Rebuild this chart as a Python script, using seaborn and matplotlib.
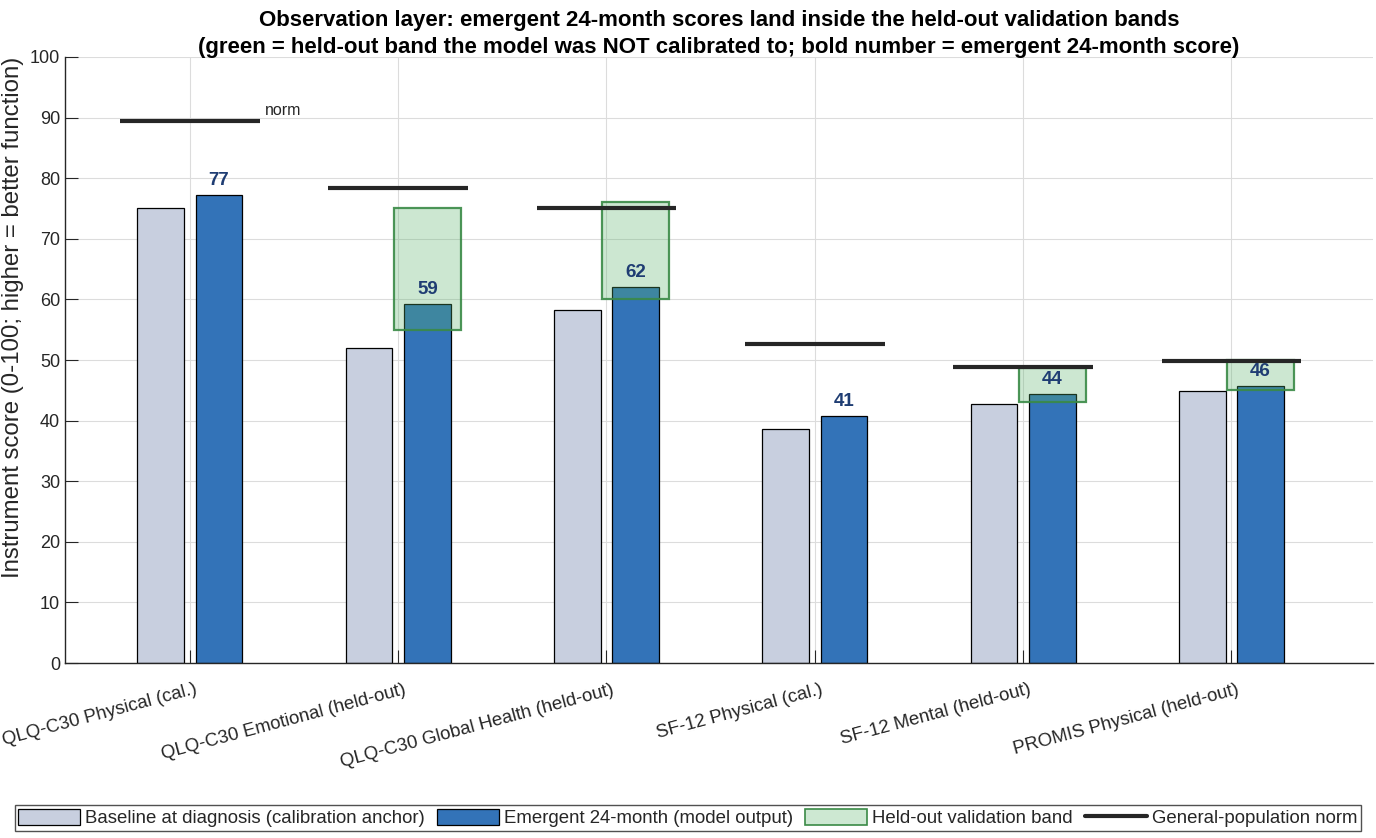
import numpy as np
import pandas as pd
import seaborn as sns
import matplotlib.pyplot as plt
import matplotlib.transforms as mtransforms
from matplotlib.patches import Rectangle, Patch
from matplotlib.lines import Line2D

# %% Data
instruments = ['QLQ-C30 Physical (cal.)', 'QLQ-C30 Emotional (held-out)',
               'QLQ-C30 Global Health (held-out)', 'SF-12 Physical (cal.)',
               'SF-12 Mental (held-out)', 'PROMIS Physical (held-out)']
baseline = [75.1, 52.0, 58.3, 38.6, 42.7, 44.9]
emergent = [77.2, 59.2, 62.0, 40.8, 44.4, 45.7]
band_lo = [np.nan, 55.0, 60.0, np.nan, 43.0, 45.0]
band_hi = [np.nan, 75.0, 76.0, np.nan, 48.7, 50.0]
norm = [89.4, 78.4, 75.1, 52.7, 48.8, 49.9]

series = ['Baseline at diagnosis (calibration anchor)', 'Emergent 24-month (model output)']
df = pd.DataFrame({
    'instrument': instruments * 2,
    'score': baseline + emergent,
    'series': [series[0]] * 6 + [series[1]] * 6,
})

c_base = '#c8cfdf'
c_emer = '#3373b8'
c_band = '#58b269'
c_band_edge = '#3a8a46'
c_norm = '#262626'
c_lab = '#1f3d73'

# %% Plot
sns.set_theme(style='whitegrid')
plt.rcParams['font.family'] = ['Liberation Sans', 'DejaVu Sans']

fig = plt.figure(figsize=(13.76, 8.38), dpi=100)
ax = fig.add_axes([0.0472, 0.2088, 0.9506, 0.7232])

sns.barplot(data=df, x='instrument', y='score', hue='series', hue_order=series,
            palette=[c_base, c_emer], saturation=1, width=0.56, gap=0.2,
            edgecolor='black', linewidth=0.9, errorbar=None, legend=False, ax=ax)

off = 0.14
for i in range(len(instruments)):
    if not np.isnan(band_lo[i]):
        ax.add_patch(Rectangle((i + off - 0.16, band_lo[i]), 0.32, band_hi[i] - band_lo[i],
                               facecolor=c_band, alpha=0.3, edgecolor='none', zorder=4))
        ax.add_patch(Rectangle((i + off - 0.16, band_lo[i]), 0.32, band_hi[i] - band_lo[i],
                               facecolor='none', edgecolor=c_band_edge, lw=1.6, alpha=0.9, zorder=4))
    ax.hlines(norm[i], i - 0.335, i + 0.335, color=c_norm, lw=3, zorder=5)
    ax.text(i + off, emergent[i] + 1.0, f'{emergent[i]:.0f}', ha='center', va='bottom',
            fontsize=13.5, fontweight='bold', color=c_lab, zorder=6)

ax.text(0.36, norm[0] + 0.6, 'norm', ha='left', va='bottom', fontsize=11.5, color='#262626')

ax.set_xlim(-0.6, 5.68)
ax.set_ylim(0, 100)
ax.set_yticks(range(0, 101, 10))
ax.set_axisbelow(True)
ax.grid(True, color='#dcdcdc', lw=0.8)
for s in ['top', 'right']:
    ax.spines[s].set_visible(False)
for s in ['left', 'bottom']:
    ax.spines[s].set_color('#262626')
    ax.spines[s].set_linewidth(1.0)
ax.tick_params(axis='both', direction='in', length=9.5, width=0.8, color='#262626',
               labelsize=13, labelcolor='#262626', left=True, bottom=True)
ax.tick_params(axis='x', pad=13)
shift = mtransforms.ScaledTranslation(5 / 100, 0, fig.dpi_scale_trans)
for lab in ax.get_xticklabels():
    lab.set_rotation(15)
    lab.set_ha('right')
    lab.set_rotation_mode('anchor')
    lab.set_fontsize(13.4)
    lab.set_transform(lab.get_transform() + shift)

ax.set_xlabel('')
ax.set_ylabel('Instrument score (0-100; higher = better function)', fontsize=17.3, color='#262626')
ax.yaxis.set_label_coords(-0.0315, 0.571)
ax.set_title('Observation layer: emergent 24-month scores land inside the held-out validation bands\n'
             '(green = held-out band the model was NOT calibrated to; bold number = emergent 24-month score)',
             fontsize=16, fontweight='bold', color='black', pad=3, linespacing=1.35)

handles = [Patch(facecolor=c_base, edgecolor='black', lw=0.9),
           Patch(facecolor=c_emer, edgecolor='black', lw=0.9),
           Patch(facecolor='#cde8d2', edgecolor=c_band_edge, lw=1.2),
           Line2D([], [], color=c_norm, lw=3)]
labels = series + ['Held-out validation band', 'General-population norm']
leg = fig.legend(handles, labels, loc='lower center', bbox_to_anchor=(0.5, 0.004), ncol=4,
                 fontsize=13.4, frameon=True, fancybox=False, edgecolor='#262626',
                 handlelength=3.3, handleheight=1.0, handletextpad=0.3, columnspacing=0.65,
                 borderpad=0.2, borderaxespad=0.2)
leg.get_frame().set_linewidth(1.0)

fig.savefig('out.png', dpi=100)
